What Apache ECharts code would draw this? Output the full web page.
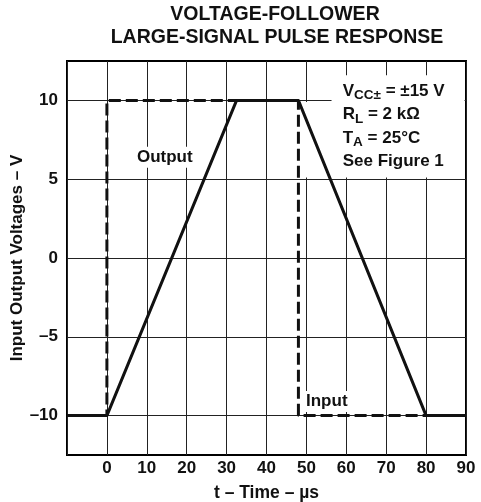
<!DOCTYPE html>
<html>
<head>
<meta charset="UTF-8">
<script src="https://cdn.jsdelivr.net/npm/echarts@6/dist/echarts.min.js"></script>
<style>html,body{margin:0;padding:0;background:#fff;}</style>
</head>
<body>
<div id="main" style="width:481px;height:502px;"></div>
<script>
// data
var yTicks = [-10, -5, 0, 5, 10];
var inputData = [[-10, -10], [0, -10], [0, 10], [48, 10], [48, -10], [90, -10]];
var outputData = [[-10, -10], [0, -10], [32.5, 10], [48, 10], [80, -10], [90, -10]];
var titleLines = ['VOLTAGE-FOLLOWER', 'LARGE-SIGNAL PULSE RESPONSE'];

var FONT = '"Liberation Sans", Arial, Helvetica, sans-serif';
function fmt(v) { return v < 0 ? '–' + Math.abs(v) : String(v); }

var chart = echarts.init(document.getElementById('main'));
var option = {
    animation: false,
    grid: { left: 67, right: 15, top: 61, bottom: 47, outerBoundsMode: 'none', containLabel: false,
        show: true, borderColor: '#000', borderWidth: 2, backgroundColor: 'transparent' },
    xAxis: {
        type: 'value', min: -10, max: 90, interval: 10,
        name: 't – Time – µs', nameLocation: 'middle', nameGap: 29,
        nameTextStyle: { fontFamily: FONT, fontWeight: 'bold', fontSize: 17.5, color: '#111' },
        axisLine: { show: false }, axisTick: { show: false },
        axisLabel: { margin: 5, fontFamily: FONT, fontWeight: 'bold', fontSize: 17, color: '#111',
            formatter: function (v) { return v < 0 ? '' : String(v); } },
        splitLine: { show: true, lineStyle: { color: '#222', width: 1 } }
    },
    yAxis: {
        type: 'value', min: -12.5, max: 12.5,
        name: 'Input Output Voltages – V', nameLocation: 'middle', nameGap: 41, nameRotate: 90,
        nameMoveOverlap: false,
        nameTextStyle: { fontFamily: FONT, fontWeight: 'bold', fontSize: 17, color: '#111' },
        axisLine: { show: false },
        axisTick: { show: false, customValues: yTicks },
        axisLabel: { customValues: yTicks, margin: 9, fontFamily: FONT, fontWeight: 'bold', fontSize: 17, color: '#111', formatter: fmt },
        splitLine: { show: true, lineStyle: { color: '#222', width: 1 } }
    },
    series: [
        {
            name: 'Input', type: 'line', data: inputData, symbol: 'none', z: 3,
            lineStyle: { color: '#111', width: 3, type: [12, 5] }
        },
        {
            name: 'Output', type: 'line', data: outputData, symbol: 'none', z: 4,
            lineStyle: { color: '#111', width: 3 }
        }
    ]
};
chart.setOption(option);

function px(x, y) { return chart.convertToPixel({ gridIndex: 0 }, [x, y]); }
var a0 = px(56.3, 11.6), a1 = px(90, 5.1);
var b0 = px(49.3, 9.9), b1 = px(56.3, 5.1);
var note = px(59.1, 11.35);
var outLbl = px(14.5, 6.4);
var inLbl = px(49.4, -9.1);

chart.setOption({
    graphic: [
        { type: 'text', z: 10, style: { x: 275, y: 15, text: titleLines[0], textAlign: 'center', textVerticalAlign: 'middle', font: 'bold 19.5px ' + FONT, fill: '#111' } },
        { type: 'text', z: 10, style: { x: 277, y: 38, text: titleLines[1], textAlign: 'center', textVerticalAlign: 'middle', font: 'bold 19.5px ' + FONT, fill: '#111' } },
        { type: 'rect', shape: { x: a0[0], y: a0[1], width: a1[0] - a0[0] - 1.5, height: a1[1] - a0[1] }, style: { fill: '#fff' }, z: 1 },
        { type: 'rect', shape: { x: b0[0], y: b0[1], width: b1[0] - b0[0], height: b1[1] - b0[1] }, style: { fill: '#fff' }, z: 1 },
        {
            type: 'text', x: note[0], y: note[1], z: 10,
            style: {
                text: '{m|V}{s|CC±}{m| = ±15 V}\n{m|R}{s|L}{m| = 2 kΩ}\n{m|T}{s|A}{m| = 25°C}\n{m|See Figure 1}',
                rich: {
                    m: { fontFamily: FONT, fontWeight: 'bold', fontSize: 17, lineHeight: 23.5, fill: '#111' },
                    s: { fontFamily: FONT, fontWeight: 'bold', fontSize: 13.5, lineHeight: 13, verticalAlign: 'bottom', fill: '#111' }
                }
            }
        },
        { type: 'text', x: outLbl[0], y: outLbl[1], z: 10, style: { text: 'Output', textAlign: 'center', textVerticalAlign: 'middle', font: 'bold 17px ' + FONT, fill: '#111', backgroundColor: '#fff', padding: [2, 3] } },
        { type: 'text', x: inLbl[0], y: inLbl[1], z: 10, style: { text: 'Input', textAlign: 'left', textVerticalAlign: 'middle', font: 'bold 17px ' + FONT, fill: '#111', backgroundColor: '#fff', padding: [2, 2] } }
    ]
});
</script>
</body>
</html>
